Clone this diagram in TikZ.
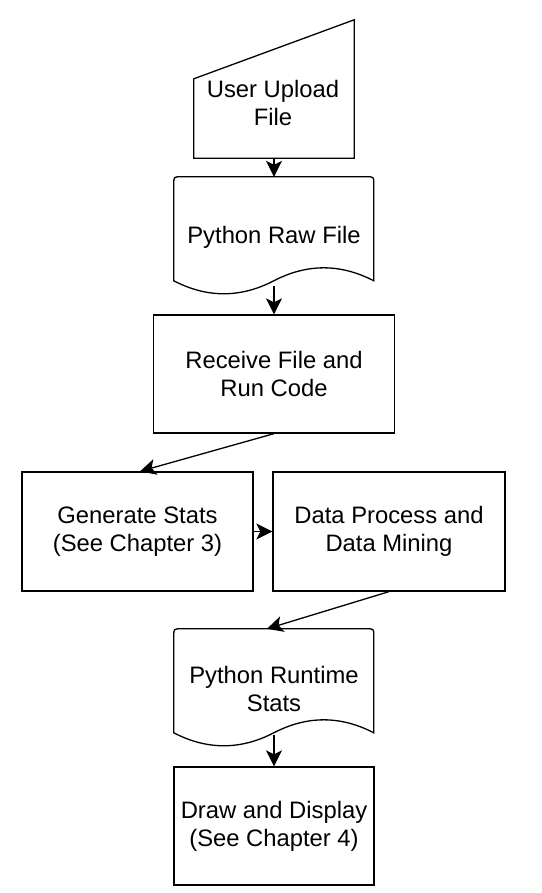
\documentclass[tikz,border=0pt]{standalone}
\usepackage{fontspec}
\setmainfont{Liberation Sans}
\usetikzlibrary{arrows.meta,calc}
\begin{document}
\begin{tikzpicture}[x=1pt,y=-1pt,
  outline/.style={draw=black,line width=1.3pt,line join=miter},
  txt/.style={inner sep=0pt,align=center,font=\fontsize{23.8}{27.7}\selectfont},
  ghost/.style={txt,rectangle},
  boxnode/.style={txt,rectangle,outline},
  flow/.style={line width=1.3pt,-{Stealth[length=16pt,width=16pt,inset=4pt]}}]
\fill[white] (0,0) rectangle (541,893);
\useasboundingbox (0,0) rectangle (541,893);

% manual input
\node[ghost,minimum width=160,minimum height=138] (upload) at (274,89) {};
\draw[outline] (upload.south west) -- ($(upload.north west)+(0,59)$) -- (upload.north east) -- (upload.south east) -- cycle;
\node[txt] (uploadtext) at (273,102.7) {User Upload\\File};

% document 1
\node[ghost,minimum width=200,minimum height=120] (raw) at (274,237) {Python Raw File};
\begin{scope}[shift={(raw.north west)}]
\draw[outline] (0,104) -- (0,7) .. controls (0,0) .. (7,0) -- (193,0) .. controls (200,0) .. (200,7) -- (200,104)
  .. controls (166.7,86.7) and (133.3,86.7) .. (100,104)
  .. controls (66.7,121.3) and (33.3,121.3) .. (0,104) -- cycle;
\end{scope}

\node[boxnode,minimum width=241,minimum height=118] (receive) at (274,374) {Receive File and\\Run Code};
\node[boxnode,minimum width=231,minimum height=119] (gen) at (137.5,531.5) {Generate Stats\\(See Chapter 3)};
\node[boxnode,minimum width=232,minimum height=119] (data) at (389,531.5) {Data Process and\\Data Mining};

% document 2
\node[ghost,minimum width=200,minimum height=120] (stats) at (274,689) {Python Runtime\\Stats};
\begin{scope}[shift={(stats.north west)}]
\draw[outline] (0,104) -- (0,7) .. controls (0,0) .. (7,0) -- (193,0) .. controls (200,0) .. (200,7) -- (200,104)
  .. controls (166.7,86.7) and (133.3,86.7) .. (100,104)
  .. controls (66.7,121.3) and (33.3,121.3) .. (0,104) -- cycle;
\end{scope}

\node[boxnode,minimum width=200,minimum height=118] (display) at (274,826) {Draw and Display\\(See Chapter 4)};

% connectors
\coordinate (rawout) at ($(raw.north)+(0,109)$);
\coordinate (statsout) at ($(stats.north)+(0,106)$);
\coordinate (genin) at ($(gen.north)+(2.5,0)$);
\coordinate (statsin) at ($(stats.north)+(-7,0)$);
\draw[flow] (upload.south) -- (raw.north);
\draw[flow] (rawout) -- (receive.north);
\draw[flow] (receive.south) -- (genin);
\draw[flow] (gen.east) -- (data.west);
\draw[flow] (data.south) -- (statsin);
\draw[flow] (statsout) -- (display.north);
\end{tikzpicture}
\end{document}
